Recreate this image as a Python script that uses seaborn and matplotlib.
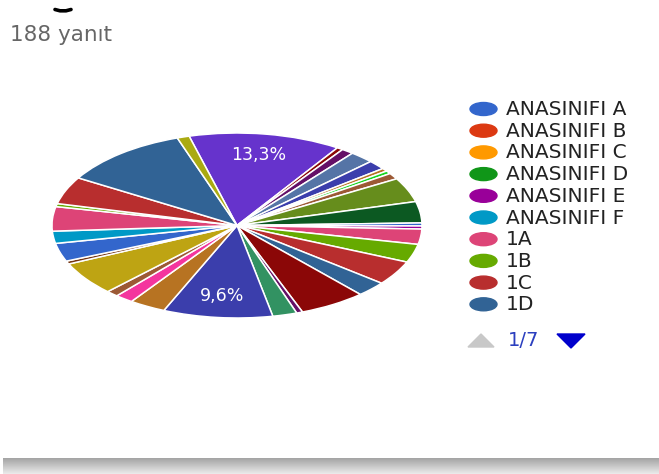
import matplotlib
matplotlib.use("Agg")
import matplotlib.pyplot as plt
from matplotlib.patches import Ellipse, Polygon
from matplotlib.lines import Line2D
import numpy as np
import seaborn as sns

# ---------------- data ----------------
response_total = 188
slice_names = [f"Dilim {i + 1}" for i in range(32)]
slice_counts = [25, 1, 2, 4, 3, 1, 1, 2, 8, 7, 1, 1, 5, 6, 8, 5,
                11, 1, 4, 18, 6, 3, 2, 11, 1, 6, 4, 8, 1, 9, 21, 2]
labelled_slices = [0, 19]
legend_labels = ["ANASINIFI A", "ANASINIFI B", "ANASINIFI C", "ANASINIFI D",
                 "ANASINIFI E", "ANASINIFI F", "1A", "1B", "1C", "1D"]
page_text = "1/7"

# ---------------- styles ----------------
slice_colors = ["#6633cc", "#8b0707", "#651067", "#5574a6", "#3b3eac", "#b77322",
                "#16d620", "#9c5935", "#668d1c", "#0c5922", "#3366cc", "#990099",
                "#dd4477", "#66aa00", "#b82e2e", "#316395", "#8b0707", "#651067",
                "#329262", "#3b3eac", "#b77322", "#f4359e", "#9c5935", "#bea413",
                "#743411", "#3366cc", "#0099c6", "#dd4477", "#66aa00", "#b82e2e",
                "#316395", "#aaaa11"]
legend_colors = sns.color_palette(["#3366cc", "#dc3912", "#ff9900", "#109618", "#990099",
                                   "#0099c6", "#dd4477", "#66aa00", "#b82e2e", "#316395"])

sns.set_theme(style="white")
plt.rcParams["font.family"] = ["DejaVu Sans"]

W, H = 659, 474
fig = plt.figure(figsize=(W / 100, H / 100), dpi=100)
fig.patch.set_facecolor("white")

# pie (stretched ellipse)
ax = fig.add_axes([52 / W, 1 - 318 / H, 370 / W, 185 / H])

wedges, texts, autotexts = ax.pie(
    slice_counts, colors=slice_colors, startangle=105, counterclock=False,
    autopct=lambda p: f"{p:.1f}%".replace(".", ","), pctdistance=0.77,
    wedgeprops=dict(edgecolor="white", linewidth=1.1),
)
for i, t in enumerate(autotexts):
    if i in labelled_slices:
        t.set_color("white")
        t.set_fontsize(12.5)
    else:
        t.set_visible(False)
ax.set_aspect("auto")
ax.set_xlim(-1.0, 1.0)
ax.set_ylim(-1.0, 1.0)
ax.axis("off")

# overlay in pixel coordinates
ov = fig.add_axes([0, 0, 1, 1])
ov.set_xlim(0, W)
ov.set_ylim(H, 0)
ov.axis("off")

# cut-off glyph at the very top
ov.add_line(Line2D([55, 60, 66, 71], [9.5, 10.8, 10.8, 9.5], color="black", lw=2.6,
                   solid_capstyle="round"))

ov.text(10, 35, f"{response_total} yanıt", fontsize=15.5, color="#666666",
        va="center", ha="left")

# legend
for i, (lab, col) in enumerate(zip(legend_labels, legend_colors)):
    y = 109 + i * 21.7
    ov.add_patch(Ellipse((483.5, y), 27, 13, color=col))
    ov.text(506, y + 0.5, lab, fontsize=14.5, color="#222222", va="center", ha="left")

# pager
ov.add_patch(Polygon([(468, 347), (494, 347), (481, 334)], closed=True, color="#c8c8c8"))
ov.text(508, 341, page_text, fontsize=14, color="#2b3fbf", va="center", ha="left")
ov.add_patch(Polygon([(557, 334), (585, 334), (571, 348)], closed=True, color="#0000cc"))

# bottom shadow band
grad = np.linspace(0.64, 0.92, 50).reshape(-1, 1)
ov.imshow(grad, cmap="gray", vmin=0, vmax=1, extent=[3, W, H, 458], aspect="auto",
          interpolation="bilinear")
ov.set_xlim(0, W)
ov.set_ylim(H, 0)

fig.savefig("out.png", dpi=100)
